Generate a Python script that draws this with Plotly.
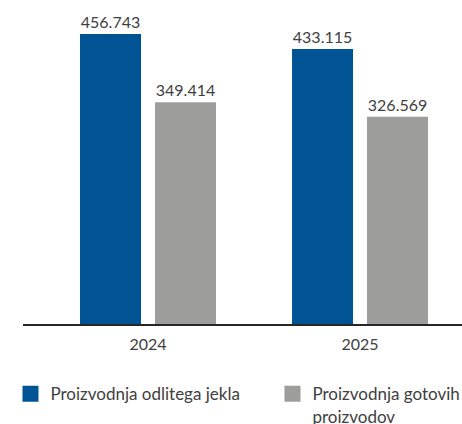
import plotly.graph_objects as go

years = ["2024", "2025"]
series_names = ["Proizvodnja odlitega jekla", "Proizvodnja gotovih<br>proizvodov"]
cast_steel = [456.743, 433.115]
finished = [349.414, 326.569]
cast_labels = ["456.743", "433.115"]
finished_labels = ["349.414", "326.569"]
colors = ["#005494", "#9d9d9c"]

FONT = "Lato, Open Sans, sans-serif"
TXT = "#404040"

fig = go.Figure()
for vals, labs, col in [(cast_steel, cast_labels, colors[0]), (finished, finished_labels, colors[1])]:
    fig.add_trace(go.Bar(x=years, y=vals, text=labs, textposition="outside",
                         marker=dict(color=col, line=dict(width=6, color="rgba(0,0,0,0)")),
                         textfont=dict(size=16, color=TXT, family=FONT),
                         cliponaxis=False, showlegend=False, hoverinfo="skip"))
for i, (name, col) in enumerate(zip(series_names, colors)):
    fig.add_trace(go.Scatter(x=[None], y=[None], mode="markers", name=name,
                             legend="legend" if i == 0 else "legend2",
                             marker=dict(symbol="square", size=16, color=col)))

leg_common = dict(xanchor="left", yanchor="top", xref="container", yref="container",
                  valign="top", itemsizing="trace", bgcolor="rgba(0,0,0,0)",
                  font=dict(size=17, color=TXT, family=FONT))

fig.update_layout(
    width=462, height=424,
    margin=dict(l=23, r=0, t=0, b=100, autoexpand=False),
    paper_bgcolor="white", plot_bgcolor="white",
    bargap=0.2925, bargroupgap=0.1867,
    font=dict(family=FONT, size=15, color=TXT),
    xaxis=dict(range=[-0.5896, 1.481], showline=True, linecolor="#262626", linewidth=2,
               ticks="", showgrid=False, ticklabelstandoff=5,
               tickfont=dict(size=16, color=TXT, family=FONT)),
    yaxis=dict(range=[0, 510.3], visible=False, showgrid=False),
    legend=dict(x=0.0227, y=0.1125, **leg_common),
    legend2=dict(x=0.5898, y=0.1125, **leg_common),
)
fig.write_html("out.html", config={"displayModeBar": False},
               post_script="document.body.style.margin='0';")
